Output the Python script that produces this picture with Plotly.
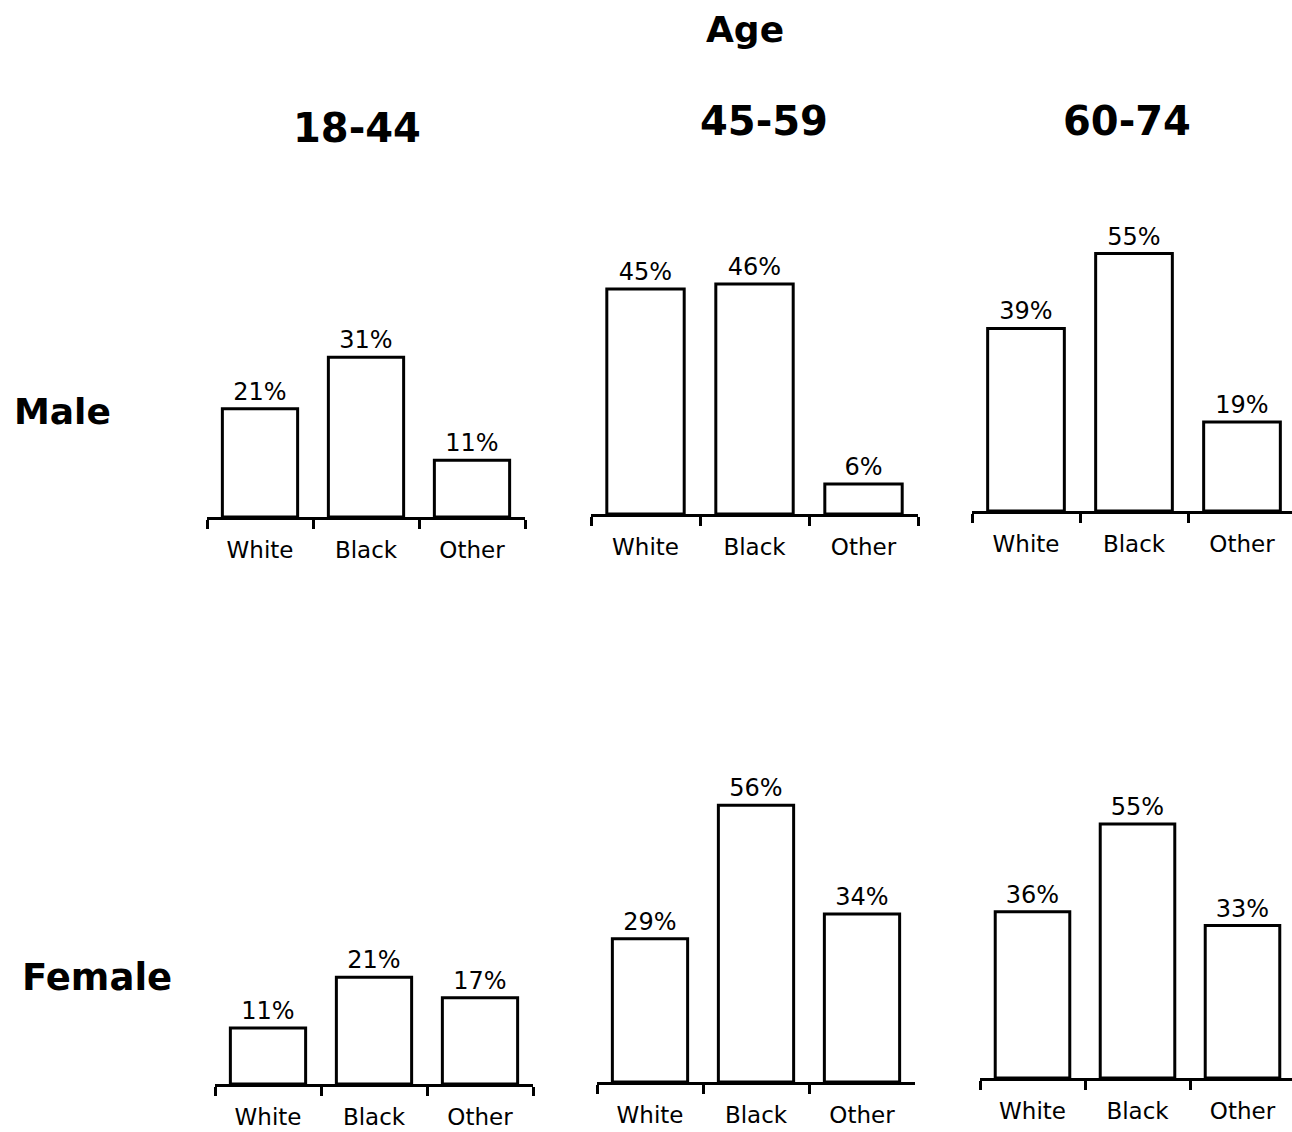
import plotly.graph_objects as go

# Percentages by sex, age group and race
races = ["White", "Black", "Other"]
age_groups = ["18-44", "45-59", "60-74"]
male_pct = {
    "18-44": [21, 31, 11],
    "45-59": [45, 46, 6],
    "60-74": [39, 55, 19],
}
female_pct = {
    "18-44": [11, 21, 17],
    "45-59": [29, 56, 34],
    "60-74": [36, 55, 33],
}

W, H = 1292, 1132
FONT = "DejaVu Sans"

# Panel geometry in pixels: left edge, width of one category, baseline, px per percent
panels = [
    ("Male", "18-44", 207, 106.0, 517, 5.15),
    ("Male", "45-59", 591, 109.0, 514, 5.00),
    ("Male", "60-74", 972, 108.0, 511, 4.68),
    ("Female", "18-44", 215, 106.0, 1084, 5.08),
    ("Female", "45-59", 597, 106.0, 1082, 4.94),
    ("Female", "60-74", 980, 105.0, 1078, 4.62),
]
YMAX = 60

fig = go.Figure()
for i, (sex, age, left, unit, base, scale) in enumerate(panels, start=1):
    vals = (male_pct if sex == "Male" else female_pct)[age]
    right = min(left + 3 * unit, W)
    xr = [-0.5, -0.5 + (right - left) / unit]
    top = base - YMAX * scale
    xa = "x" if i == 1 else f"x{i}"
    ya = "y" if i == 1 else f"y{i}"
    fig.add_trace(go.Bar(
        x=races, y=vals, xaxis=xa, yaxis=ya,
        marker=dict(color="white", line=dict(color="black", width=3)),
        text=[f"{v}%" for v in vals], textposition="outside",
        textfont=dict(family=FONT, size=24, color="black"),
        cliponaxis=False, showlegend=False, width=0.71,
    ))
    key = "" if i == 1 else str(i)
    fig.update_layout(**{
        f"xaxis{key}": dict(
            domain=[left / W, right / W], range=xr, type="category",
            anchor=ya, showline=True, linecolor="black", linewidth=3,
            ticks="outside", tickson="boundaries", ticklen=9, tickwidth=3,
            tickcolor="black", showgrid=False, zeroline=False,
            tickfont=dict(family=FONT, size=23, color="black"),
            ticklabelstandoff=10, fixedrange=True,
        ),
        f"yaxis{key}": dict(
            domain=[1 - base / H, 1 - top / H], range=[0, YMAX],
            anchor=xa, visible=False, showgrid=False, zeroline=False,
            fixedrange=True,
        ),
    })

annotations = [
    dict(text="<b>Age</b>", x=745 / W, y=1 - 30 / H, size=36),
    dict(text="<b>18-44</b>", x=357 / W, y=1 - 128 / H, size=40),
    dict(text="<b>45-59</b>", x=764 / W, y=1 - 121 / H, size=40),
    dict(text="<b>60-74</b>", x=1127 / W, y=1 - 121 / H, size=40),
]
for a in annotations:
    fig.add_annotation(text=a["text"], x=a["x"], y=a["y"], xref="paper", yref="paper",
                       xanchor="center", yanchor="middle", showarrow=False,
                       font=dict(family=FONT, size=a["size"], color="black"))

for label, x, y, size in [("Male", 12, 412, 36), ("Female", 20, 977, 37)]:
    fig.add_annotation(text=f"<b>{label}</b>", x=x / W, y=1 - y / H, xref="paper", yref="paper",
                       xanchor="left", yanchor="middle", showarrow=False,
                       font=dict(family=FONT, size=size, color="black"))

fig.update_layout(
    width=W, height=H, margin=dict(l=0, r=0, t=0, b=0),
    paper_bgcolor="white", plot_bgcolor="white",
    bargap=0.29,
)

fig.write_html("out.html")
